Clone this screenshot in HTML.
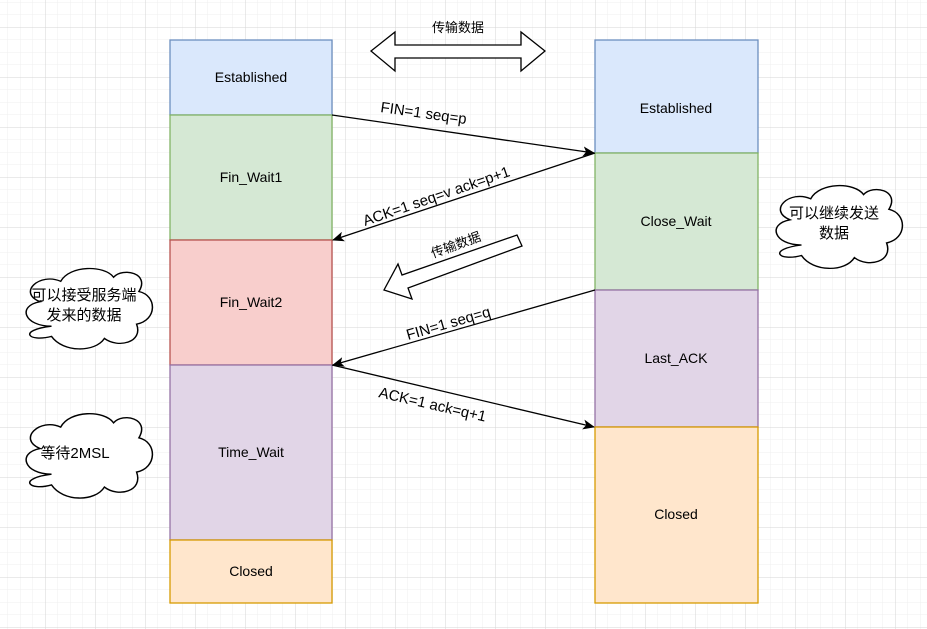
<!DOCTYPE html>
<html><head><meta charset="utf-8"><style>
html,body{margin:0;padding:0;background:#fff}
svg{display:block}
text{font-family:"Liberation Sans","Noto Sans CJK SC",sans-serif;fill:#000}
</style></head><body>
<svg width="927" height="629" viewBox="0 0 927 629" xmlns="http://www.w3.org/2000/svg">
<defs>
<pattern id="g" x="7.5" y="2" width="12.5" height="12.5" patternUnits="userSpaceOnUse">
<path d="M0 0H12.5M0 0V12.5" stroke="#efefef" stroke-width="1" fill="none"/>
</pattern>
<pattern id="G" x="45" y="27" width="50" height="50" patternUnits="userSpaceOnUse">
<path d="M0 0H50M0 0V50" stroke="#d6d6d6" stroke-width="1" fill="none"/>
</pattern>
<marker id="a" markerWidth="12" markerHeight="10" refX="11" refY="5" orient="auto" markerUnits="userSpaceOnUse">
<path d="M0 0L12 5L0 10L3 5Z" fill="#000"/>
</marker>
<path id="cloud" d="M30 60 C6 60 0 40 20 36 C0 27 20 7 38 16 C46 0 76 0 84 12 C92 2 116 8 106 26 C122 30 122 54 104 58 C110 76 88 82 76 72 C68 86 40 86 30 70 C10 76 0 64 30 60 Z"/>
</defs>
<rect width="927" height="629" fill="url(#g)"/>
<rect width="927" height="629" fill="url(#G)"/>

<g stroke-width="1.3" font-size="14" text-anchor="middle">
<rect x="170" y="40" width="162" height="75" fill="#dae8fc" stroke="#6c8ebf"/>
<rect x="170" y="115" width="162" height="125" fill="#d5e8d4" stroke="#82b366"/>
<rect x="170" y="240" width="162" height="125" fill="#f8cecc" stroke="#b85450"/>
<rect x="170" y="365" width="162" height="175" fill="#e1d5e7" stroke="#9673a6"/>
<rect x="170" y="540" width="162" height="63" fill="#ffe6cc" stroke="#d79b00"/>
<text x="251" y="82">Established</text>
<text x="251" y="182">Fin_Wait1</text>
<text x="251" y="307">Fin_Wait2</text>
<text x="251" y="457">Time_Wait</text>
<text x="251" y="576">Closed</text>

<rect x="595" y="40" width="163" height="113" fill="#dae8fc" stroke="#6c8ebf"/>
<rect x="595" y="153" width="163" height="137" fill="#d5e8d4" stroke="#82b366"/>
<rect x="595" y="290" width="163" height="137" fill="#e1d5e7" stroke="#9673a6"/>
<rect x="595" y="427" width="163" height="176" fill="#ffe6cc" stroke="#d79b00"/>
<text x="676" y="113">Established</text>
<text x="676" y="226">Close_Wait</text>
<text x="676" y="363">Last_ACK</text>
<text x="676" y="519">Closed</text>
</g>

<g stroke="#000" stroke-width="1.3" fill="none">
<line x1="332" y1="115" x2="594" y2="153" marker-end="url(#a)"/>
<line x1="595" y1="153" x2="333" y2="240" marker-end="url(#a)"/>
<line x1="595" y1="290" x2="333" y2="365" marker-end="url(#a)"/>
<line x1="332" y1="365" x2="594" y2="427" marker-end="url(#a)"/>
<path d="M371 51 L395 32 L395 45 L521 45 L521 32 L545 51 L521 71 L521 58 L395 58 L395 71 Z" fill="#fff"/>
<path d="M517 235 L522 246 L408 288 L412 299 L384 290 L398 264 L402 275 Z" fill="#fff"/>
</g>

<g font-size="14">
<text x="458" y="32" text-anchor="middle" font-size="13">传输数据</text>
<text transform="translate(380,112) rotate(8)" font-size="15">FIN=1  seq=p</text>
<text transform="translate(365,226) rotate(-19)" font-size="15">ACK=1 seq=v ack=p+1</text>
<text transform="translate(433,258) rotate(-20)" font-size="13">传输数据</text>
<text transform="translate(408,340) rotate(-16)" font-size="15">FIN=1  seq=q</text>
<text transform="translate(378,397) rotate(13)" font-size="15">ACK=1  ack=q+1</text>
</g>

<g fill="#fff" stroke="#000" stroke-width="1.3">
<use href="#cloud" transform="translate(767,182) scale(1.15,1.05)" vector-effect="non-scaling-stroke"/>
<use href="#cloud" transform="translate(17,265) scale(1.15,1.02)"/>
<use href="#cloud" transform="translate(17,410) scale(1.15,1.07)"/>
</g>
<g font-size="15" text-anchor="middle">
<text x="834" y="218">可以继续发送</text>
<text x="834" y="238">数据</text>
<text x="84" y="300">可以接受服务端</text>
<text x="84" y="320">发来的数据</text>
<text x="75" y="458">等待2MSL</text>
</g>
</svg>
</body></html>
